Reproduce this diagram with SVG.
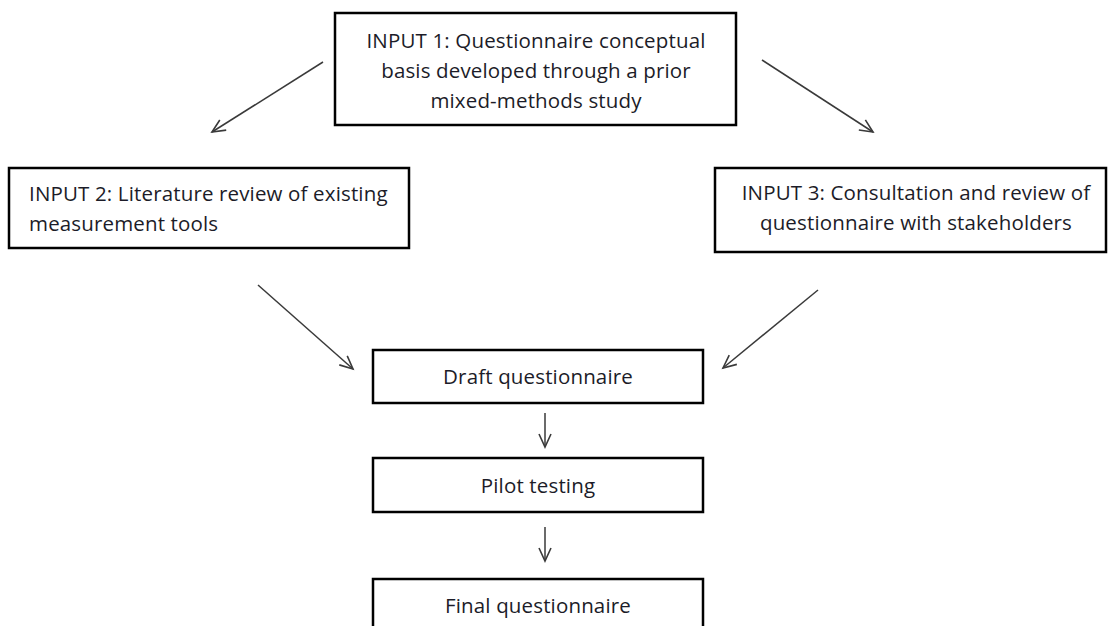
<svg xmlns="http://www.w3.org/2000/svg" width="1108" height="626" viewBox="0 0 1108 626">
  <style>
    .box { fill: #ffffff; stroke: #000000; stroke-width: 2.5; }
    .lbl { font-family: "Open Sans", "Noto Sans", "Liberation Sans", sans-serif; font-size: 20.5px; letter-spacing: 0.15px; fill: #1c1c28; }
    .mid { text-anchor: middle; }
    .edge { stroke: #3a3a3a; stroke-width: 1.5; fill: none; marker-end: url(#head); }
  </style>
  <defs>
    <marker id="head" markerUnits="userSpaceOnUse" markerWidth="20" markerHeight="20" refX="14" refY="7" orient="auto">
      <path d="M1,1 L14,7 L1,13" fill="none" stroke="#3a3a3a" stroke-width="1.6"/>
    </marker>
  </defs>
  <rect width="1108" height="626" fill="#ffffff"/>

  <g id="connectors">
    <line class="edge" x1="323" y1="62" x2="212" y2="132"/>
    <line class="edge" x1="762" y1="60" x2="873" y2="132"/>
    <line class="edge" x1="258" y1="285" x2="353" y2="369"/>
    <line class="edge" x1="818" y1="290" x2="723" y2="368"/>
    <line class="edge" x1="545" y1="413" x2="545" y2="447"/>
    <line class="edge" x1="545" y1="527" x2="545" y2="561"/>
  </g>

  <g id="input1">
    <rect class="box" x="335" y="13" width="401" height="112"/>
    <text class="lbl mid" x="536" y="48">INPUT 1: Questionnaire conceptual</text>
    <text class="lbl mid" x="536" y="78">basis developed through a prior</text>
    <text class="lbl mid" x="536" y="108">mixed-methods study</text>
  </g>

  <g id="input2">
    <rect class="box" x="9" y="168" width="400" height="80"/>
    <text class="lbl" x="29" y="201">INPUT 2: Literature review of existing</text>
    <text class="lbl" x="29" y="231">measurement tools</text>
  </g>

  <g id="input3">
    <rect class="box" x="715" y="168" width="391" height="84"/>
    <text class="lbl mid" x="916" y="200">INPUT 3: Consultation and review of</text>
    <text class="lbl mid" x="916" y="230">questionnaire with stakeholders</text>
  </g>

  <g id="draft">
    <rect class="box" x="373" y="350" width="330" height="53"/>
    <text class="lbl mid" x="538" y="384">Draft questionnaire</text>
  </g>

  <g id="pilot">
    <rect class="box" x="373" y="458" width="330" height="54"/>
    <text class="lbl mid" x="538" y="493">Pilot testing</text>
  </g>

  <g id="final">
    <rect class="box" x="373" y="579" width="330" height="60"/>
    <text class="lbl mid" x="538" y="613">Final questionnaire</text>
  </g>
</svg>
